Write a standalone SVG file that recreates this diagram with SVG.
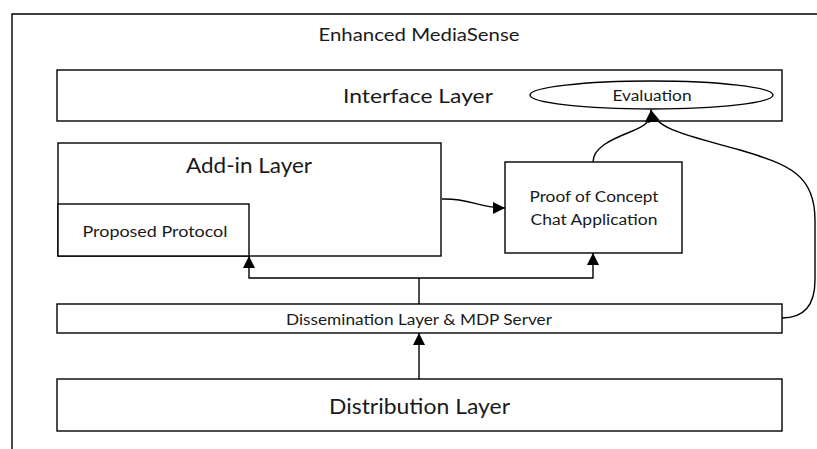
<svg xmlns="http://www.w3.org/2000/svg" width="817" height="449" viewBox="0 0 817 449">
  <style>
    .box { fill: #ffffff; stroke: #000000; stroke-width: 1.4; }
    .frame { fill: none; stroke: #000000; stroke-width: 1.4; }
    .edge { fill: none; stroke: #000000; stroke-width: 1.4; }
    text { font-family: Lato, "Open Sans", "Liberation Sans", sans-serif; fill: #1a1a1a; text-anchor: middle; }
    .big { font-size: 22px; }
    .mid { font-size: 20px; }
    .title { font-size: 18px; }
    .small { font-size: 15.5px; }
  </style>
  <defs>
    <marker id="arrow" markerUnits="userSpaceOnUse" markerWidth="12" markerHeight="12" viewBox="0 0 10 10" refX="10" refY="5" orient="auto">
      <path d="M0,0 L10,5 L0,10 Z" fill="#000000"/>
    </marker>
  </defs>

  <!-- outer container -->
  <g id="enhanced-mediasense">
    <path class="frame" d="M12,449 L12,14 L817,14"/>
    <text class="title" x="419" y="41" textLength="201" lengthAdjust="spacingAndGlyphs">Enhanced MediaSense</text>
  </g>

  <g id="interface-layer">
    <rect class="box" x="57" y="70" width="725" height="51"/>
    <text class="mid" x="418" y="103" textLength="150" lengthAdjust="spacingAndGlyphs">Interface Layer</text>
  </g>

  <g id="evaluation">
    <ellipse class="box" cx="651.5" cy="95" rx="121.5" ry="14"/>
    <text class="small" x="652" y="101" textLength="79" lengthAdjust="spacingAndGlyphs">Evaluation</text>
  </g>

  <g id="addin-layer">
    <rect class="box" x="58" y="143" width="383" height="113"/>
    <text class="big" x="249" y="173" textLength="126" lengthAdjust="spacingAndGlyphs">Add-in Layer</text>
  </g>

  <g id="proposed-protocol">
    <rect class="box" x="58" y="204" width="191" height="52"/>
    <text class="small" x="155" y="237" textLength="145" lengthAdjust="spacingAndGlyphs">Proposed Protocol</text>
  </g>

  <g id="chat-application">
    <rect class="box" x="505" y="162" width="177" height="91"/>
    <text class="small" x="594" y="202" textLength="129" lengthAdjust="spacingAndGlyphs">Proof of Concept</text>
    <text class="small" x="594" y="225" textLength="127" lengthAdjust="spacingAndGlyphs">Chat Application</text>
  </g>

  <g id="dissemination-layer">
    <rect class="box" x="57" y="304" width="725" height="29"/>
    <text class="small" x="419" y="325" textLength="266" lengthAdjust="spacingAndGlyphs">Dissemination Layer &amp; MDP Server</text>
  </g>

  <g id="distribution-layer">
    <rect class="box" x="57" y="379" width="725" height="52"/>
    <text class="big" x="419.5" y="414" textLength="181" lengthAdjust="spacingAndGlyphs">Distribution Layer</text>
  </g>

  <g id="connectors">
    <!-- distribution -> dissemination -->
    <path class="edge" d="M419,379 L419,333" marker-end="url(#arrow)"/>
    <!-- dissemination fan-out to protocol and chat app -->
    <path class="edge" d="M419,304 L419,278"/>
    <path class="edge" d="M419,278 L249,278 L249,256" marker-end="url(#arrow)"/>
    <path class="edge" d="M419,278 L593,278 L593,253" marker-end="url(#arrow)"/>
    <!-- add-in -> chat app -->
    <path class="edge" d="M442,199 C470,198 478,208 505,208" marker-end="url(#arrow)"/>
    <!-- chat app -> evaluation -->
    <path class="edge" d="M593,162 C593,148 610,140 630,132 C645,126 651,122 651,110" marker-end="url(#arrow)"/>
    <!-- dissemination -> evaluation -->
    <path class="edge" d="M782,318 C808,318 815,300 815,280 L815,220 C815,175 790,165 740,150 C690,136 656,130 651,110" marker-end="url(#arrow)"/>
  </g>
</svg>
